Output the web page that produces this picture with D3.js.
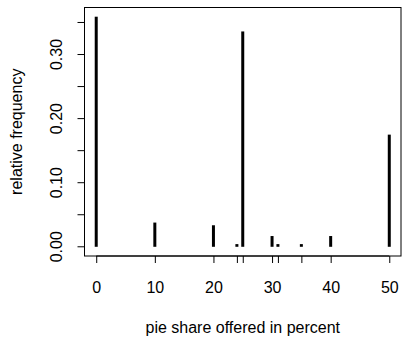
<!DOCTYPE html>
<html><head><meta charset="utf-8">
<script src="https://cdn.jsdelivr.net/npm/d3@7"></script>
<style>body{margin:0;background:#fff}svg{display:block}text{font-family:"Liberation Sans",Arial,sans-serif;fill:#000}</style>
</head><body>
<script>
const shares = [0, 10, 20, 24, 25, 30, 31, 35, 40, 50];
const freqs = [0.359, 0.0378, 0.0336, 0.0042, 0.336, 0.0168, 0.0042, 0.0042, 0.0168, 0.175];
const xTickLabels = [0, 10, 20, 30, 40, 50];
const yTicks = [0, 0.05, 0.10, 0.15, 0.20, 0.25, 0.30, 0.35];
const yTickLabels = ["0.00", "0.10", "0.20", "0.30"];

const W = 402, H = 338;
const L = 84.5, R = 401, T = 7.5, B = 256;
const FS = 16;
const svg = d3.select("body").append("svg").attr("width", W).attr("height", H);
const x = d3.scaleLinear().domain([-2, 52]).range([L, R]);
const y = d3.scaleLinear().domain([-0.01436, 0.359 + 0.01436]).range([B, T]);

svg.append("rect").attr("x", L).attr("y", T).attr("width", R - L).attr("height", B - T)
  .attr("fill", "none").attr("stroke", "#000").attr("stroke-width", 1);

svg.selectAll("line.bar").data(shares).enter().append("line")
  .attr("x1", (d) => x(d)).attr("x2", (d) => x(d))
  .attr("y1", y(0)).attr("y2", (d, i) => y(freqs[i]))
  .attr("stroke", "#000").attr("stroke-width", 3);

const xAxis = svg.append("g").attr("transform", `translate(0,${B})`)
  .call(d3.axisBottom(x).tickValues(shares).tickSize(7).tickFormat((d) => xTickLabels.includes(d) ? d : ""));
xAxis.select(".domain").attr("d", `M${x(0)},0H${x(50)}`);
xAxis.selectAll("text").attr("font-size", FS).attr("y", 37).attr("dy", null);
xAxis.selectAll("line").attr("stroke", "#000");

const yAxis = svg.append("g").attr("transform", `translate(${L},0)`)
  .call(d3.axisLeft(y).tickValues(yTicks).tickSize(7)
    .tickFormat((d) => { const s = d.toFixed(2); return yTickLabels.includes(s) ? s : ""; }));
yAxis.select(".domain").attr("d", `M0,${y(0)}V${y(0.35)}`);
yAxis.selectAll("line").attr("stroke", "#000");
yAxis.selectAll(".tick").attr("transform", null);
yAxis.selectAll(".tick line").attr("transform", (d) => `translate(0,${y(d)})`);
yAxis.selectAll("text").attr("font-size", FS)
  .attr("x", null).attr("dy", null).attr("y", 0)
  .attr("text-anchor", "middle")
  .attr("transform", (d) => `translate(${62 - L},${y(d)}) rotate(-90)`);

svg.append("text").attr("x", (L + R) / 2).attr("y", 333).attr("text-anchor", "middle")
  .attr("font-size", FS).text("pie share offered in percent");
svg.append("text").attr("transform", `translate(22,${(T + B) / 2}) rotate(-90)`)
  .attr("text-anchor", "middle").attr("font-size", FS).text("relative frequency");
</script>
</body></html>
